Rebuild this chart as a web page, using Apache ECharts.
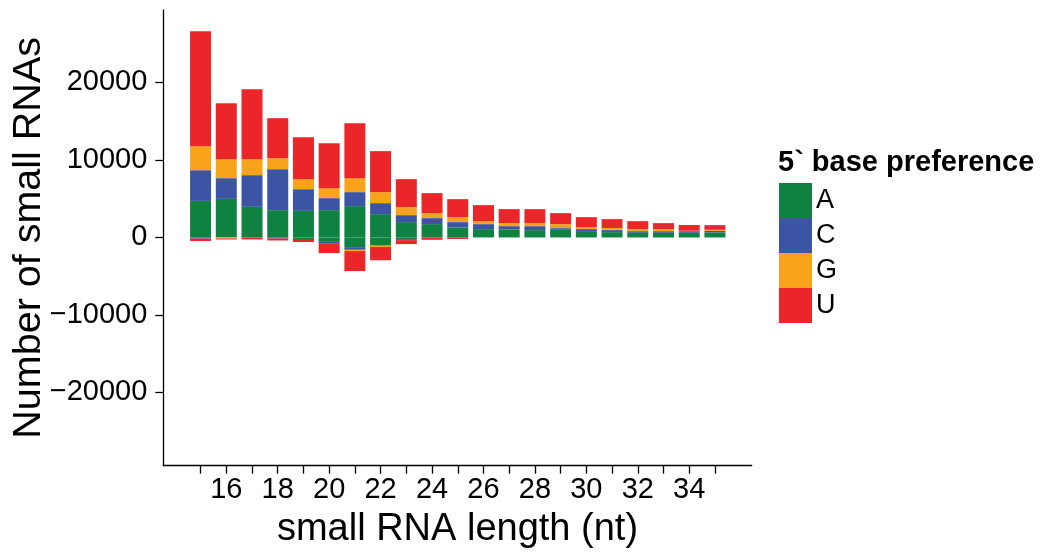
<!DOCTYPE html>
<head>
    <meta charset="utf-8"/>
</head>
<body style="margin:0;background:#fff;">
<div id="main" style="width:1043px;height:552px;"></div>
<script src="https://cdn.jsdelivr.net/npm/echarts@6/dist/echarts.min.js"></script>
<script type="text/javascript">
 // small RNA lengths (nt)
 var lengths = [15,16,17,18,19,20,21,22,23,24,25,26,27,28,29,30,31,32,33,34,35];
 var xTickLabels = [16,18,20,22,24,26,28,30,32,34];
 var yTicks = [-20000,-10000,0,10000,20000];
 var bases = ['A','C','G','U'];
 var baseColors = ['#0f8140','#3b54a4','#f9a31b','#eb2629'];
 // positive (sense) counts per 5' base
 var posA = [4720,4980,3950,3520,3430,3525,4045,3010,1980,1720,1290,1075,1030,945,990,817,690,600,600,600,645];
 var posC = [3960,2670,4090,5290,2800,1550,1805,1420,900,775,690,645,430,515,215,258,258,215,215,215,215];
 var posG = [3100,2450,2060,1420,1290,1290,1805,1420,1035,645,640,385,390,390,515,258,258,258,258,60,130];
 var posU = [14830,7225,9030,5160,5420,5805,7095,5290,3610,2580,2325,2065,1805,1805,1420,1290,1160,1030,775,730,600];
 // negative (antisense) counts per 5' base
 var negA = [0,0,0,0,-200,-470,-1250,-990,-215,0,0,0,0,0,0,0,0,0,0,0,0];
 var negC = [-150,0,0,-130,0,-260,-340,-80,-130,0,0,0,0,0,0,0,0,0,0,0,0];
 var negG = [0,-130,0,0,0,0,-170,-150,0,0,0,0,0,0,0,0,0,0,0,0,0];
 var negU = [-300,-130,-260,-260,-390,-1290,-2580,-1720,-515,-300,-200,0,0,0,0,0,0,0,0,0,0];

 var font = 'Liberation Sans, Arial, Helvetica, sans-serif';
 var yMin = -29450, yMax = 29350;
 var xMin = 13.55, xMax = 36.43;
 var myChart;
 var options;

 function createChart(){
   // axis frame spans 163.3..751.7 px; bars sit in an inner grid whose bands line up with the ticks
   var plotL = 163.3, plotR = 751.7;
   var unit = (plotR - plotL) / (xMax - xMin);
   var innerL = plotL + (lengths[0] - 0.5 - xMin) * unit;
   var innerR = plotL + (lengths[lengths.length-1] + 0.5 - xMin) * unit;

   var groups = [posA,posC,posG,posU,negA,negC,negG,negU];
   var series = groups.map(function(vals,k){
     return {
       name: bases[k % 4],
       type: 'bar',
       stack: 'total',
       xAxisIndex: 1,
       yAxisIndex: 1,
       barWidth: 21,
       data: vals,
       itemStyle: {color: baseColors[k % 4]},
       emphasis: {disabled: true}
     };
   });
   options = {
     animation: false,
     grid: [
       {left: plotL, right: 1043 - plotR, top: 10, bottom: 86.3, outerBoundsMode: 'none', containLabel: false},
       {left: innerL, right: 1043 - innerR, top: 10, bottom: 86.3, outerBoundsMode: 'none', containLabel: false}
     ],
     title: {
       text: '5` base preference',
       left: 778, top: 148, padding: 0,
       textStyle: {fontFamily: font, fontSize: 29, fontWeight: 'bold', color: '#000'}
     },
     legend: {
       data: bases,
       orient: 'vertical',
       left: 779, top: 183, padding: 0,
       itemWidth: 33, itemHeight: 35, itemGap: 0,
       icon: 'rect',
       selectedMode: false,
       textStyle: {fontFamily: font, fontSize: 27, color: '#000', padding: [0,0,0,-1]}
     },
     xAxis: [{
       gridIndex: 0,
       type: 'value',
       min: xMin, max: xMax,
       name: 'small RNA length (nt)',
       nameLocation: 'middle',
       nameGap: 45,
       nameMoveOverlap: false,
       nameTextStyle: {fontFamily: font, fontSize: 38, color: '#000'},
       axisLine: {onZero: false, lineStyle: {color: '#000', width: 1.3}},
       axisTick: {customValues: lengths, length: 8, lineStyle: {color: '#000', width: 1.3}},
       axisLabel: {customValues: xTickLabels, margin: 10, fontFamily: font, fontSize: 29, color: '#000'},
       splitLine: {show: false}
     }, {
       gridIndex: 1,
       type: 'category',
       data: lengths,
       show: false
     }],
     yAxis: [{
       gridIndex: 0,
       type: 'value',
       min: yMin, max: yMax,
       name: 'Number of small RNAs',
       nameLocation: 'middle',
       nameGap: 114,
       nameMoveOverlap: false,
       nameTextStyle: {fontFamily: font, fontSize: 39.5, color: '#000'},
       axisLine: {show: true, lineStyle: {color: '#000', width: 1.3}},
       axisTick: {show: true, customValues: yTicks, length: 8, lineStyle: {color: '#000', width: 1.3}},
       axisLabel: {
         customValues: yTicks, margin: 16, fontFamily: font, fontSize: 29, color: '#000',
         formatter: function(v){ return v < 0 ? '\u2212' + Math.abs(v) : String(v); }
       },
       splitLine: {show: false}
     }, {
       gridIndex: 1,
       type: 'value',
       min: yMin, max: yMax,
       show: false,
       splitLine: {show: false}
     }],
     series: series
   };
   myChart = echarts.init(document.getElementById('main'));
   myChart.setOption(options);
 }
 createChart();
</script>
</body>
